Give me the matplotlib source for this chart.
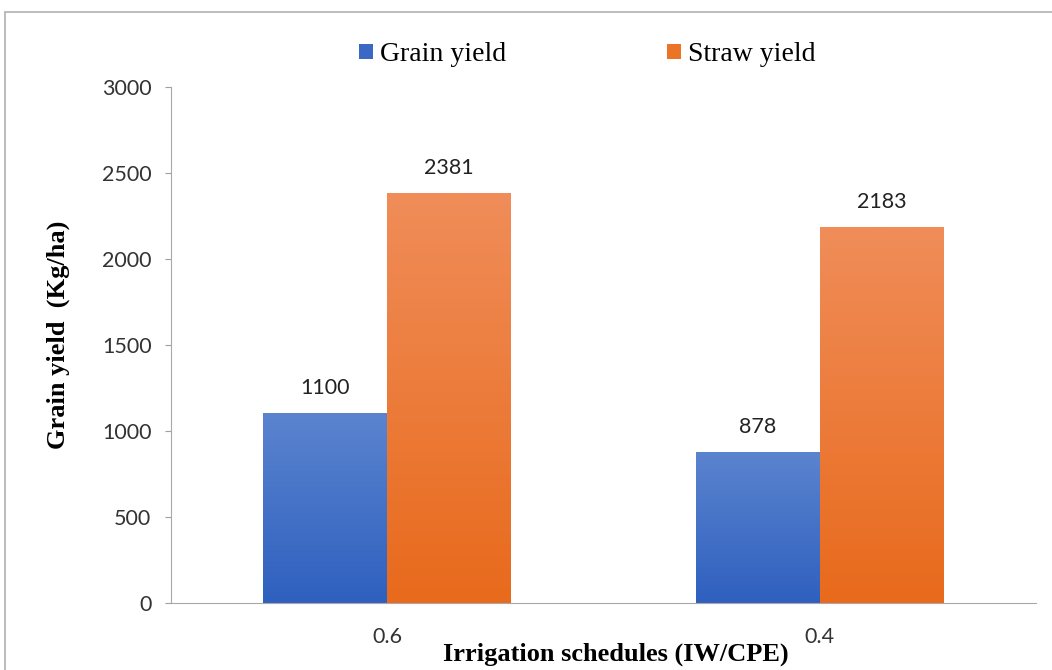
import numpy as np
import matplotlib
matplotlib.use("Agg")
import matplotlib.pyplot as plt
from matplotlib.patches import Patch, Rectangle
from matplotlib.colors import LinearSegmentedColormap

schedules = ["0.6", "0.4"]
grain_yield = [1100, 878]
straw_yield = [2381, 2183]

fig = plt.figure(figsize=(10.52, 6.70), dpi=100)
ax = fig.add_axes([0.1625, 0.10, 0.822, 0.77])

# outer chart frame
fig.patches.append(Rectangle((0.005, -0.05), 1.2, 1.032, transform=fig.transFigure,
                             fill=False, edgecolor="#b0b0b0", linewidth=1.2))

x = np.arange(len(schedules))
w = 0.286
cmaps = {
    "blue": LinearSegmentedColormap.from_list("b", ["#2f60bf", "#5b84cf"]),
    "orange": LinearSegmentedColormap.from_list("o", ["#e86a1c", "#f08d59"]),
}

bars_g = ax.bar(x - w / 2, grain_yield, w, color="none", edgecolor="none")
bars_s = ax.bar(x + w / 2, straw_yield, w, color="none", edgecolor="none")

grad = np.linspace(0, 1, 256).reshape(-1, 1)
for bars, cm in [(bars_g, cmaps["blue"]), (bars_s, cmaps["orange"])]:
    for b in bars:
        x0, x1 = b.get_x(), b.get_x() + b.get_width()
        ax.imshow(grad, cmap=cm, aspect="auto", origin="lower",
                  extent=[x0, x1, 0, b.get_height()], zorder=2)
        ax.text(b.get_x() + b.get_width() / 2, b.get_height() + 90, f"{int(b.get_height())}",
                ha="center", va="bottom", fontsize=15.5, color="#222222", family="Lato")

ax.set_xlim(-0.5, 1.5)
ax.set_ylim(0, 3000)
ax.set_yticks(range(0, 3001, 500))
ax.set_xticks(x)
ax.set_xticklabels(schedules)
ax.tick_params(axis="x", length=0, pad=17)
ax.tick_params(axis="y", length=4, color="#a0a0a0", pad=10)
for lbl in ax.get_xticklabels() + ax.get_yticklabels():
    lbl.set_fontsize(15.5)
    lbl.set_family("Lato")
    lbl.set_color("#333333")

for s in ["top", "right"]:
    ax.spines[s].set_visible(False)
ax.spines["left"].set_color("#a8a8a8")
ax.spines["bottom"].set_color("#a8a8a8")

ax.set_ylabel("Grain yield  (Kg/ha)", fontsize=19, fontweight="bold",
              family="Liberation Serif")
ax.yaxis.set_label_coords(-0.117, 0.519)
ax.set_xlabel("Irrigation schedules (IW/CPE)", fontsize=19, fontweight="bold",
              family="Liberation Serif")
ax.xaxis.set_label_coords(0.514, -0.0775)

handles = [Patch(facecolor="#3a68c4", label="Grain yield"),
           Patch(facecolor="#ec7426", label="Straw yield")]
fig.legend(handles=handles, loc="center", bbox_to_anchor=(0.558, 0.918), ncol=2,
           frameon=False, handlelength=0.5, handleheight=0.5, handletextpad=0.25,
           columnspacing=5.8, borderpad=0, prop={"family": "Liberation Serif", "size": 20})

fig.savefig("out.png", dpi=100)
